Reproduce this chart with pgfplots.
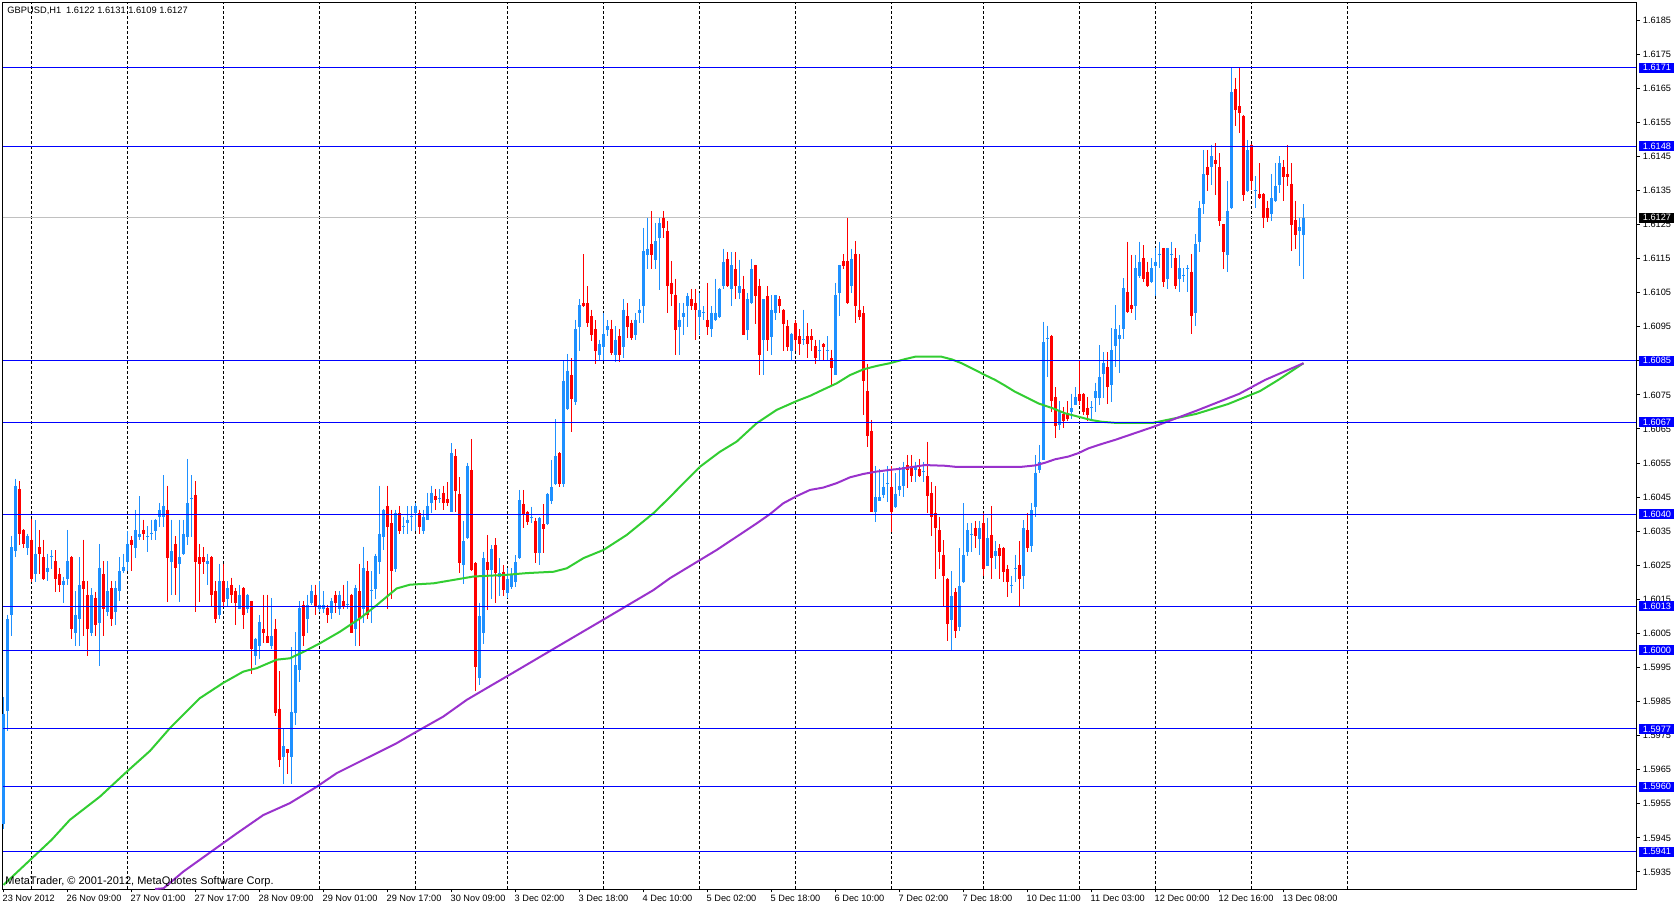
\documentclass[border=0pt]{standalone}
\usepackage{pgfplots}
\usepackage{pgfplotstable}
\pgfplotsset{compat=1.18}
\usepackage{fontspec}
\setmainfont{Liberation Sans}
\definecolor{upc}{RGB}{30,144,255}
\definecolor{dnc}{RGB}{255,0,0}
\definecolor{mag}{RGB}{50,205,50}
\definecolor{mab}{RGB}{153,50,204}
\definecolor{hlc}{RGB}{0,0,255}
\definecolor{bidc}{RGB}{192,192,192}

\pgfplotstableread{
i o h l c
0 1.59492 1.59864 1.59475 1.59815
1 1.59822 1.60105 1.59763 1.60093
2 1.60103 1.60336 1.60042 1.60303
3 1.60291 1.60504 1.60274 1.60484
6 1.60301 1.60343 1.60281 1.60335
8 1.60223 1.60384 1.60201 1.60284
11 1.60230 1.60284 1.60203 1.60243
12 1.60275 1.60294 1.60240 1.60278
15 1.60193 1.60216 1.60140 1.60205
16 1.60211 1.60354 1.60191 1.60262
18 1.60052 1.60174 1.60012 1.60105
19 1.60091 1.60274 1.60012 1.60193
22 1.60052 1.60183 1.60042 1.60164
24 1.60082 1.60313 1.59953 1.60243
26 1.60113 1.60262 1.60101 1.60174
28 1.60113 1.60204 1.60074 1.60183
29 1.60174 1.60274 1.60145 1.60233
30 1.60232 1.60284 1.60228 1.60245
31 1.60261 1.60352 1.60232 1.60313
33 1.60301 1.60413 1.60272 1.60354
34 1.60333 1.60453 1.60323 1.60343
36 1.60333 1.60364 1.60290 1.60336
37 1.60341 1.60384 1.60323 1.60344
38 1.60352 1.60386 1.60323 1.60384
39 1.60393 1.60433 1.60362 1.60413
40 1.60393 1.60514 1.60362 1.60424
42 1.60261 1.60384 1.60162 1.60292
44 1.60253 1.60384 1.60142 1.60274
45 1.60282 1.60384 1.60280 1.60343
46 1.60333 1.60562 1.60310 1.60433
47 1.60443 1.60514 1.60333 1.60446
51 1.60253 1.60284 1.60191 1.60262
54 1.60103 1.60255 1.60091 1.60204
56 1.60152 1.60204 1.60130 1.60184
59 1.60123 1.60193 1.60121 1.60164
61 1.60123 1.60166 1.60111 1.60164
63 1.59983 1.60037 1.59956 1.60035
64 1.60012 1.60103 1.59974 1.60083
67 1.60012 1.60154 1.60005 1.60042
70 1.59687 1.59769 1.59607 1.59719
72 1.59687 1.60010 1.59607 1.59820
73 1.59815 1.60054 1.59780 1.59956
74 1.59942 1.60144 1.59908 1.60125
76 1.60091 1.60164 1.60052 1.60134
77 1.60140 1.60193 1.60134 1.60174
79 1.60123 1.60204 1.60113 1.60134
80 1.60123 1.60174 1.60111 1.60134
82 1.60111 1.60154 1.60091 1.60144
84 1.60123 1.60174 1.60103 1.60164
86 1.60134 1.60204 1.60123 1.60137
88 1.60062 1.60193 1.60012 1.60184
90 1.60123 1.60305 1.60082 1.60243
92 1.60174 1.60233 1.60082 1.60177
93 1.60181 1.60284 1.60152 1.60276
94 1.60261 1.60484 1.60223 1.60343
95 1.60333 1.60415 1.60296 1.60413
98 1.60240 1.60413 1.60230 1.60403
100 1.60361 1.60393 1.60341 1.60364
101 1.60374 1.60424 1.60341 1.60384
102 1.60393 1.60424 1.60352 1.60396
103 1.60403 1.60433 1.60352 1.60424
105 1.60352 1.60413 1.60341 1.60393
106 1.60384 1.60463 1.60382 1.60424
107 1.60433 1.60484 1.60403 1.60463
109 1.60443 1.60474 1.60433 1.60446
112 1.60407 1.60608 1.60405 1.60579
115 1.60250 1.60380 1.60196 1.60321
116 1.60329 1.60551 1.60327 1.60542
119 1.59920 1.60140 1.59900 1.60100
120 1.60050 1.60290 1.60020 1.60270
122 1.60236 1.60309 1.60150 1.60299
124 1.60215 1.60270 1.60160 1.60226
126 1.60169 1.60241 1.60155 1.60211
127 1.60187 1.60241 1.60180 1.60221
128 1.60201 1.60280 1.60187 1.60260
129 1.60270 1.60471 1.60268 1.60442
132 1.60390 1.60422 1.60373 1.60393
134 1.60287 1.60392 1.60250 1.60390
136 1.60371 1.60461 1.60369 1.60459
137 1.60440 1.60559 1.60430 1.60481
138 1.60489 1.60679 1.60487 1.60571
140 1.60489 1.60850 1.60479 1.60792
141 1.60709 1.60870 1.60707 1.60821
143 1.60729 1.60971 1.60719 1.60942
144 1.60950 1.61030 1.60878 1.61013
149 1.60868 1.60912 1.60848 1.60900
150 1.60891 1.60991 1.60848 1.60930
151 1.60940 1.60969 1.60922 1.60951
153 1.60868 1.60951 1.60846 1.60912
155 1.60891 1.61030 1.60858 1.61000
158 1.60927 1.60991 1.60910 1.60971
159 1.60989 1.61030 1.60961 1.61000
160 1.61010 1.61241 1.60961 1.61172
161 1.61160 1.61270 1.61118 1.61179
163 1.61147 1.61255 1.61118 1.61201
164 1.61211 1.61270 1.61059 1.61253
169 1.60949 1.61020 1.60868 1.60971
170 1.60979 1.61020 1.60927 1.60991
171 1.61010 1.61049 1.60949 1.61040
174 1.60979 1.61049 1.60927 1.61000
175 1.60991 1.61010 1.60969 1.60994
177 1.60942 1.61010 1.60920 1.60991
178 1.60969 1.61091 1.60967 1.60991
179 1.60979 1.61063 1.60977 1.61061
180 1.61069 1.61179 1.61061 1.61141
182 1.61061 1.61169 1.61010 1.61130
184 1.61049 1.61147 1.61030 1.61069
186 1.60940 1.61049 1.60910 1.61030
187 1.61020 1.61149 1.61018 1.61120
190 1.60910 1.61032 1.60809 1.61030
192 1.60920 1.61042 1.60868 1.61000
193 1.60991 1.61044 1.60969 1.61042
197 1.60878 1.60932 1.60848 1.60930
200 1.60910 1.61000 1.60897 1.60913
204 1.60878 1.60912 1.60848 1.60881
206 1.60878 1.60922 1.60848 1.60881
208 1.60809 1.61079 1.60807 1.61042
209 1.61049 1.61132 1.60981 1.61130
212 1.61069 1.61179 1.61049 1.61149
218 1.60407 1.60542 1.60378 1.60451
219 1.60440 1.60532 1.60438 1.60451
220 1.60456 1.60520 1.60446 1.60481
221 1.60489 1.60542 1.60437 1.60492
223 1.60420 1.60520 1.60418 1.60460
224 1.60471 1.60539 1.60454 1.60483
225 1.60483 1.60554 1.60449 1.60537
228 1.60530 1.60554 1.60493 1.60540
230 1.60523 1.60554 1.60493 1.60526
237 1.60088 1.60232 1.60001 1.60160
239 1.60068 1.60301 1.60058 1.60190
240 1.60200 1.60432 1.60198 1.60281
241 1.60288 1.60373 1.60278 1.60353
242 1.60340 1.60373 1.60288 1.60343
244 1.60327 1.60380 1.60281 1.60360
246 1.60249 1.60390 1.60247 1.60330
248 1.60278 1.60321 1.60239 1.60291
252 1.60189 1.60219 1.60170 1.60192
253 1.60238 1.60281 1.60200 1.60241
255 1.60219 1.60383 1.60180 1.60360
257 1.60308 1.60432 1.60288 1.60412
258 1.60422 1.60574 1.60393 1.60522
259 1.60530 1.60603 1.60522 1.60554
260 1.60560 1.60965 1.60558 1.60904
261 1.60915 1.60953 1.60803 1.60918
264 1.60662 1.60731 1.60648 1.60704
267 1.60700 1.60754 1.60680 1.60711
268 1.60721 1.60773 1.60719 1.60744
272 1.60712 1.60731 1.60672 1.60715
273 1.60741 1.60786 1.60701 1.60760
274 1.60741 1.60896 1.60719 1.60803
275 1.60810 1.60875 1.60741 1.60845
277 1.60780 1.60945 1.60729 1.60882
278 1.60893 1.61014 1.60832 1.60944
279 1.60913 1.60954 1.60813 1.60925
280 1.60942 1.61093 1.60913 1.61064
283 1.61012 1.61161 1.60971 1.61121
284 1.61100 1.61200 1.61093 1.61141
287 1.61080 1.61151 1.61078 1.61121
288 1.61129 1.61180 1.61041 1.61141
289 1.61161 1.61200 1.61121 1.61164
291 1.61090 1.61182 1.61061 1.61180
292 1.61161 1.61200 1.61121 1.61164
294 1.61090 1.61161 1.61051 1.61121
295 1.61100 1.61121 1.61080 1.61103
296 1.61120 1.61130 1.61051 1.61123
298 1.60991 1.61221 1.60952 1.61192
299 1.61199 1.61320 1.61170 1.61299
300 1.61309 1.61469 1.61280 1.61399
302 1.61418 1.61483 1.61367 1.61450
306 1.61161 1.61379 1.61111 1.61291
307 1.61297 1.61710 1.61295 1.61639
311 1.61348 1.61498 1.61346 1.61469
313 1.61348 1.61391 1.61299 1.61351
317 1.61280 1.61398 1.61260 1.61328
318 1.61318 1.61430 1.61316 1.61362
319 1.61367 1.61450 1.61343 1.61430
324 1.61231 1.61270 1.61129 1.61243
325 1.61220 1.61310 1.61090 1.61270
}\uptab

\pgfplotstableread{
i o h l c
4 1.60474 1.60496 1.60310 1.60341
5 1.60354 1.60355 1.60301 1.60311
7 1.60325 1.60387 1.60201 1.60211
9 1.60303 1.60354 1.60223 1.60282
10 1.60274 1.60325 1.60208 1.60211
13 1.60262 1.60294 1.60173 1.60211
14 1.60225 1.60243 1.60173 1.60191
17 1.60274 1.60276 1.60033 1.60062
20 1.60204 1.60325 1.60042 1.60181
21 1.60164 1.60204 1.59983 1.60062
23 1.60154 1.60173 1.60042 1.60074
25 1.60225 1.60262 1.60042 1.60123
27 1.60184 1.60204 1.60072 1.60091
32 1.60325 1.60335 1.60232 1.60310
35 1.60354 1.60384 1.60323 1.60341
41 1.60413 1.60484 1.60142 1.60272
43 1.60313 1.60335 1.60162 1.60242
48 1.60455 1.60496 1.60113 1.60261
49 1.60274 1.60313 1.60142 1.60253
50 1.60274 1.60303 1.60223 1.60261
52 1.60274 1.60276 1.60130 1.60162
53 1.60174 1.60204 1.60082 1.60091
55 1.60204 1.60255 1.60130 1.60142
57 1.60193 1.60214 1.60140 1.60162
58 1.60174 1.60184 1.60074 1.60140
60 1.60184 1.60186 1.60062 1.60103
62 1.60144 1.60146 1.59932 1.60005
65 1.60064 1.60164 1.60023 1.60052
66 1.60042 1.60164 1.60021 1.60023
68 1.60064 1.60093 1.59807 1.59817
69 1.59829 1.59939 1.59658 1.59679
71 1.59710 1.59712 1.59638 1.59699
75 1.60134 1.60144 1.60012 1.60041
78 1.60164 1.60193 1.60103 1.60130
81 1.60126 1.60134 1.60082 1.60103
83 1.60164 1.60174 1.60111 1.60140
85 1.60144 1.60193 1.60123 1.60130
87 1.60164 1.60166 1.60050 1.60052
89 1.60174 1.60255 1.60012 1.60095
91 1.60233 1.60262 1.60091 1.60103
96 1.60424 1.60484 1.60123 1.60362
97 1.60374 1.60413 1.60152 1.60233
99 1.60403 1.60424 1.60341 1.60352
104 1.60403 1.60413 1.60341 1.60362
108 1.60453 1.60474 1.60413 1.60443
110 1.60463 1.60484 1.60413 1.60433
111 1.60445 1.60494 1.60424 1.60433
113 1.60571 1.60591 1.60407 1.60469
114 1.60459 1.60508 1.60226 1.60257
117 1.60530 1.60621 1.60234 1.60236
118 1.60257 1.60259 1.59880 1.59950
121 1.60260 1.60339 1.60120 1.60236
123 1.60309 1.60329 1.60140 1.60226
125 1.60230 1.60250 1.60160 1.60177
130 1.60430 1.60471 1.60358 1.60400
131 1.60407 1.60409 1.60368 1.60377
133 1.60380 1.60390 1.60257 1.60287
135 1.60371 1.60430 1.60287 1.60356
139 1.60579 1.60581 1.60481 1.60489
142 1.60809 1.60858 1.60640 1.60739
145 1.61020 1.61162 1.61008 1.61010
146 1.61020 1.61069 1.60950 1.60961
147 1.60981 1.61000 1.60907 1.60927
148 1.60942 1.60969 1.60842 1.60878
152 1.60942 1.60971 1.60868 1.60873
154 1.60922 1.60942 1.60846 1.60868
156 1.60981 1.61020 1.60917 1.60949
157 1.60961 1.60971 1.60910 1.60917
162 1.61192 1.61290 1.61118 1.61160
165 1.61270 1.61290 1.61211 1.61241
166 1.61231 1.61260 1.60991 1.61069
167 1.61079 1.61143 1.61010 1.61047
168 1.61042 1.61091 1.60868 1.60940
172 1.61030 1.61061 1.60998 1.61010
173 1.61020 1.61061 1.60910 1.60998
176 1.60971 1.61079 1.60927 1.60949
181 1.61149 1.61169 1.61067 1.61069
183 1.61120 1.61169 1.61030 1.61069
185 1.61061 1.61100 1.60925 1.60927
188 1.61130 1.61132 1.60959 1.61040
189 1.61069 1.61091 1.60809 1.60868
191 1.61040 1.61069 1.60878 1.60912
194 1.61030 1.61040 1.60991 1.61010
195 1.61000 1.61002 1.60878 1.60959
196 1.60951 1.60971 1.60878 1.60891
198 1.60961 1.60971 1.60878 1.60910
199 1.60922 1.60942 1.60868 1.60900
201 1.60922 1.60961 1.60858 1.60900
202 1.60922 1.60942 1.60878 1.60910
203 1.60893 1.60912 1.60842 1.60858
205 1.60900 1.60902 1.60848 1.60891
207 1.60858 1.60883 1.60780 1.60829
210 1.61143 1.61162 1.61118 1.61128
211 1.61143 1.61270 1.61018 1.61020
213 1.61162 1.61201 1.60961 1.61010
214 1.61000 1.61162 1.60969 1.60979
215 1.60991 1.61010 1.60690 1.60790
216 1.60760 1.60842 1.60598 1.60628
217 1.60643 1.60677 1.60405 1.60407
222 1.60481 1.60542 1.60348 1.60407
226 1.60544 1.60574 1.60478 1.60530
227 1.60540 1.60574 1.60493 1.60511
229 1.60532 1.60562 1.60508 1.60511
231 1.60511 1.60613 1.60402 1.60452
232 1.60461 1.60493 1.60337 1.60393
233 1.60402 1.60483 1.60210 1.60360
234 1.60353 1.60393 1.60239 1.60288
235 1.60281 1.60324 1.60129 1.60219
236 1.60210 1.60212 1.60029 1.60078
238 1.60173 1.60183 1.60038 1.60058
243 1.60360 1.60380 1.60301 1.60337
245 1.60373 1.60402 1.60219 1.60239
247 1.60340 1.60424 1.60210 1.60272
249 1.60301 1.60311 1.60210 1.60278
250 1.60301 1.60303 1.60200 1.60229
251 1.60239 1.60252 1.60158 1.60200
254 1.60252 1.60321 1.60129 1.60210
256 1.60353 1.60402 1.60288 1.60301
262 1.60924 1.60926 1.60701 1.60731
263 1.60744 1.60773 1.60623 1.60660
265 1.60695 1.60714 1.60652 1.60672
266 1.60695 1.60731 1.60672 1.60680
269 1.60754 1.60850 1.60721 1.60731
270 1.60754 1.60756 1.60692 1.60701
271 1.60711 1.60744 1.60672 1.60692
276 1.60832 1.60875 1.60724 1.60773
281 1.61051 1.61200 1.60991 1.60993
282 1.61014 1.61161 1.60991 1.61001
285 1.61151 1.61189 1.61080 1.61090
286 1.61112 1.61141 1.61068 1.61070
290 1.61180 1.61182 1.61068 1.61080
293 1.61151 1.61180 1.61061 1.61070
297 1.61112 1.61163 1.60930 1.60981
301 1.61420 1.61469 1.61348 1.61396
303 1.61440 1.61488 1.61338 1.61428
304 1.61420 1.61459 1.61247 1.61260
305 1.61250 1.61252 1.61119 1.61170
308 1.61647 1.61681 1.61539 1.61586
309 1.61597 1.61710 1.61518 1.61578
310 1.61568 1.61570 1.61318 1.61338
312 1.61483 1.61485 1.61352 1.61377
314 1.61340 1.61430 1.61326 1.61328
315 1.61340 1.61342 1.61241 1.61270
316 1.61299 1.61320 1.61258 1.61270
320 1.61420 1.61440 1.61318 1.61388
321 1.61398 1.61483 1.61362 1.61388
322 1.61370 1.61430 1.61171 1.61248
323 1.61262 1.61320 1.61179 1.61219
}\dntab

\pgfplotstableread{
x y
0 1.59312
12 1.59444
16.6 1.59503
24.1 1.59571
30.8 1.59644
36.6 1.59705
41.6 1.59772
49.1 1.59860
54.95 1.59905
59.95 1.59938
63.3 1.59948
68.3 1.59973
71.6 1.59977
75 1.59996
79.1 1.60021
84.1 1.60055
89.1 1.60094
93.3 1.60133
98.3 1.60182
101.6 1.60193
107.5 1.60197
117.5 1.60217
125.8 1.60222
130.8 1.60227
137.5 1.60231
140.8 1.60241
145 1.60271
150 1.60295
155.8 1.60339
162.5 1.60403
166.6 1.60450
170 1.60491
174.1 1.60539
179.1 1.60583
183.3 1.60613
188.3 1.60667
193.3 1.60706
198.3 1.60732
201.6 1.60747
205 1.60766
208.3 1.60784
211.6 1.60808
215 1.60825
218.3 1.60835
221.6 1.60843
225.4 1.60855
227.9 1.60862
234.5 1.60862
237.1 1.60854
239.5 1.60843
242.9 1.60823
245.4 1.60808
247.9 1.60794
250.4 1.60777
252.9 1.60759
256.2 1.60740
258.7 1.60725
262 1.60712
265.4 1.60696
268.7 1.60686
272 1.60676
274.6 1.60671
277.9 1.60668
287.4 1.60668
298.1 1.60694
306.1 1.60723
314.1 1.60761
318.7 1.60794
325 1.60843
}\greentab

\pgfplotstableread{
x y
37.9 1.59300
40 1.59302
44.95 1.59351
52.45 1.59414
58.3 1.59463
64.95 1.59517
71.6 1.59552
78.3 1.59600
83.3 1.59640
89.95 1.59679
98.3 1.59728
103.3 1.59762
109.95 1.59806
115.8 1.59855
121.6 1.59895
127.3 1.59934
138 1.60008
148.6 1.60081
162.45 1.60177
166.6 1.60212
178.3 1.60295
183.3 1.60334
188.3 1.60373
191.6 1.60400
194.95 1.60432
198.3 1.60453
201.6 1.60471
204.95 1.60478
208.3 1.60491
211.6 1.60508
214.95 1.60518
218.3 1.60525
221.6 1.60530
224.1 1.60533
230.4 1.60544
235.4 1.60542
237.9 1.60539
254.6 1.60539
257.9 1.60543
260.4 1.60551
262.9 1.60561
266.2 1.60569
268.7 1.60579
271.2 1.60593
274.55 1.60606
277.9 1.60618
287.4 1.60656
298.1 1.60703
308.9 1.60753
315.4 1.60794
325 1.60843
}\purpletab

\newcommand{\lbl}{\fontsize{9.2}{11}\selectfont}
\tikzset{pbox/.style={anchor=west, inner xsep=4.4pt, inner ysep=0pt, minimum height=10pt, text=white, font=\lbl, xshift=2.3pt}}

\begin{document}
\begin{tikzpicture}
\useasboundingbox (0,0) rectangle (1674pt,906pt);
\begin{axis}[
  at={(3pt,17pt)}, anchor=south west,
  scale only axis, width=1633pt, height=886pt,
  xmin=-0.125, xmax=408.125, ymin=1.5930, ymax=1.6190,
  clip=false,
  axis line style={black, line width=1pt},
  tick align=outside, major tick length=3.5pt,
  tick style={black, line width=1pt},
  xtick pos=left, ytick pos=right, yticklabel pos=right,
  xtick={0,16,...,320},
  xticklabels={23 Nov 2012, 26 Nov 09:00, 27 Nov 01:00, 27 Nov 17:00, 28 Nov 09:00, 29 Nov 01:00, 29 Nov 17:00, 30 Nov 09:00, 3 Dec 02:00, 3 Dec 18:00, 4 Dec 10:00, 5 Dec 02:00, 5 Dec 18:00, 6 Dec 10:00, 7 Dec 02:00, 7 Dec 18:00, 10 Dec 11:00, 11 Dec 03:00, 12 Dec 00:00, 12 Dec 16:00, 13 Dec 08:00},
  xticklabel style={font=\lbl, anchor=north west, inner sep=0pt, xshift=-1pt, yshift=-2.5pt},
  extra x ticks={7,31,55,79,103,126,150,174,198,222,245,269,288,312,336},
  extra x tick labels={},
  extra x tick style={grid=major, tick style={draw=none}, major grid style={black, line width=1pt, dash pattern=on 3pt off 2pt}},
  ytick={1.5935,1.5945,1.5955,1.5965,1.5975,1.5985,1.5995,1.6005,1.6015,1.6025,1.6035,1.6045,1.6055,1.6065,1.6075,1.6085,1.6095,1.6105,1.6115,1.6125,1.6135,1.6145,1.6155,1.6165,1.6175,1.6185},
  scaled y ticks=false,
  /pgf/number format/fixed, /pgf/number format/fixed zerofill,
  /pgf/number format/precision=4, /pgf/number format/assume math mode=true,
  yticklabel style={font=\lbl, anchor=west, inner sep=0pt, xshift=3.2pt},
  after end axis/.code={
    \node[pbox, fill=hlc] at (axis cs:408.125,1.6171) {1.6171};
    \node[pbox, fill=hlc] at (axis cs:408.125,1.6148) {1.6148};
    \node[pbox, fill=black] at (axis cs:408.125,1.6127) {1.6127};
    \node[pbox, fill=hlc] at (axis cs:408.125,1.6085) {1.6085};
    \node[pbox, fill=hlc] at (axis cs:408.125,1.6067) {1.6067};
    \node[pbox, fill=hlc] at (axis cs:408.125,1.6040) {1.6040};
    \node[pbox, fill=hlc] at (axis cs:408.125,1.6013) {1.6013};
    \node[pbox, fill=hlc] at (axis cs:408.125,1.6000) {1.6000};
    \node[pbox, fill=hlc] at (axis cs:408.125,1.5977) {1.5977};
    \node[pbox, fill=hlc] at (axis cs:408.125,1.5960) {1.5960};
    \node[pbox, fill=hlc] at (axis cs:408.125,1.5941) {1.5941};
    \node[anchor=north west, inner sep=0pt, font=\fontsize{9.3}{11}\selectfont, xshift=4.3pt, yshift=-4.3pt] at (rel axis cs:0,1) {GBPUSD,H1\hspace{5pt}1.6122 1.6131 1.6109 1.6127};
    \node[anchor=base west, inner sep=0pt, font=\fontsize{11}{13}\selectfont, xshift=2.3pt, yshift=4.5pt] at (rel axis cs:0,0) {MetaTrader, © 2001-2012, MetaQuotes Software Corp.};
  },
]
% bid line
\addplot[bidc, line width=1pt, mark=none, forget plot] coordinates {(-0.125,1.6127) (408.125,1.6127)};
% up candles
\addplot[draw=none, mark=none, forget plot, error bars/.cd, y dir=minus, y explicit, error mark=none, error bar style={draw=upc, line width=1pt}] table[x=i, y=h, y error minus expr=\thisrow{h}-\thisrow{l}] {\uptab};
\addplot[draw=none, mark=none, forget plot, error bars/.cd, y dir=minus, y explicit, error mark=none, error bar style={draw=upc, line width=3pt}] table[x=i, y=c, y error minus expr=\thisrow{c}-\thisrow{o}] {\uptab};
% down candles
\addplot[draw=none, mark=none, forget plot, error bars/.cd, y dir=minus, y explicit, error mark=none, error bar style={draw=dnc, line width=1pt}] table[x=i, y=h, y error minus expr=\thisrow{h}-\thisrow{l}] {\dntab};
\addplot[draw=none, mark=none, forget plot, error bars/.cd, y dir=minus, y explicit, error mark=none, error bar style={draw=dnc, line width=3pt}] table[x=i, y=o, y error minus expr=\thisrow{o}-\thisrow{c}] {\dntab};
% moving averages
\addplot[mag, line width=2pt, mark=none] table[x=x, y=y] {\greentab};
\addplot[mab, line width=2pt, mark=none] table[x=x, y=y] {\purpletab};
% horizontal lines
\addplot[hlc, line width=1pt, mark=none, forget plot] coordinates {(-0.125,1.6171) (408.125,1.6171)};
\addplot[hlc, line width=1pt, mark=none, forget plot] coordinates {(-0.125,1.6148) (408.125,1.6148)};
\addplot[hlc, line width=1pt, mark=none, forget plot] coordinates {(-0.125,1.6085) (408.125,1.6085)};
\addplot[hlc, line width=1pt, mark=none, forget plot] coordinates {(-0.125,1.6067) (408.125,1.6067)};
\addplot[hlc, line width=1pt, mark=none, forget plot] coordinates {(-0.125,1.6040) (408.125,1.6040)};
\addplot[hlc, line width=1pt, mark=none, forget plot] coordinates {(-0.125,1.6013) (408.125,1.6013)};
\addplot[hlc, line width=1pt, mark=none, forget plot] coordinates {(-0.125,1.6000) (408.125,1.6000)};
\addplot[hlc, line width=1pt, mark=none, forget plot] coordinates {(-0.125,1.5977) (408.125,1.5977)};
\addplot[hlc, line width=1pt, mark=none, forget plot] coordinates {(-0.125,1.5960) (408.125,1.5960)};
\addplot[hlc, line width=1pt, mark=none, forget plot] coordinates {(-0.125,1.5941) (408.125,1.5941)};
\end{axis}
\end{tikzpicture}
\end{document}
